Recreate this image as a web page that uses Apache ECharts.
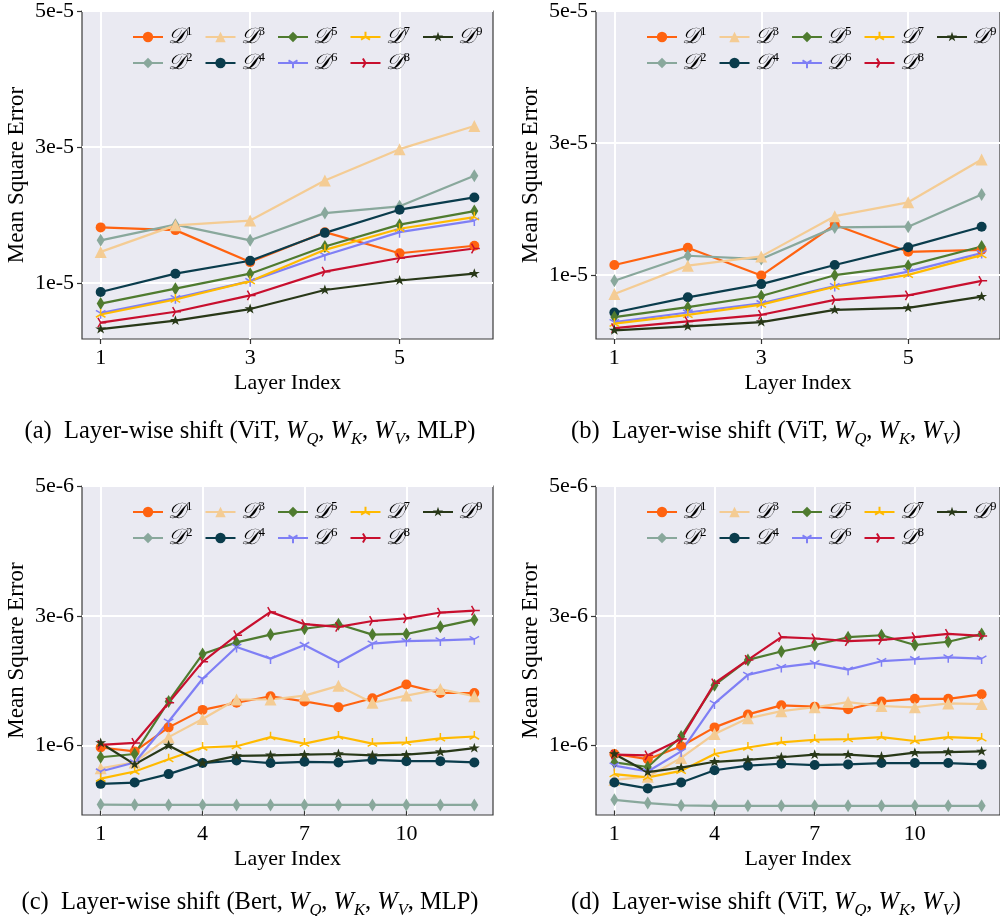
<!DOCTYPE html>
<html><head><meta charset="utf-8">
<script src="https://cdn.jsdelivr.net/npm/echarts@6/dist/echarts.min.js"></script>
<style>html,body{margin:0;padding:0;background:#fff}#c{width:1000px;height:916px}</style>
</head><body><div id="c"></div>
<script>
// ---------------- data ----------------
const seriesNames = ['D1','D2','D3','D4','D5','D6','D7','D8','D9'];
const layers6 = [1,2,3,4,5,6];
const layers12 = [1,2,3,4,5,6,7,8,9,10,11,12];

// (a) ViT, WQ WK WV MLP
const a_D1 = [1.82e-5, 1.78e-5, 1.31e-5, 1.75e-5, 1.44e-5, 1.55e-5];
const a_D2 = [1.63e-5, 1.86e-5, 1.63e-5, 2.03e-5, 2.13e-5, 2.58e-5];
const a_D3 = [1.46e-5, 1.85e-5, 1.92e-5, 2.51e-5, 2.97e-5, 3.31e-5];
const a_D4 = [8.7e-6, 1.14e-5, 1.33e-5, 1.74e-5, 2.08e-5, 2.26e-5];
const a_D5 = [7.0e-6, 9.2e-6, 1.14e-5, 1.54e-5, 1.86e-5, 2.06e-5];
const a_D6 = [5.6e-6, 7.8e-6, 1.03e-5, 1.41e-5, 1.75e-5, 1.92e-5];
const a_D7 = [5.4e-6, 7.6e-6, 1.03e-5, 1.49e-5, 1.80e-5, 1.97e-5];
const a_D8 = [4.2e-6, 5.8e-6, 8.2e-6, 1.17e-5, 1.37e-5, 1.51e-5];
const a_D9 = [3.25e-6, 4.5e-6, 6.2e-6, 9.0e-6, 1.04e-5, 1.14e-5];

// (b) ViT, WQ WK WV
const b_D1 = [1.15e-5, 1.41e-5, 9.9e-6, 1.76e-5, 1.35e-5, 1.38e-5];
const b_D2 = [9.1e-6, 1.29e-5, 1.24e-5, 1.72e-5, 1.73e-5, 2.22e-5];
const b_D3 = [7.1e-6, 1.14e-5, 1.28e-5, 1.89e-5, 2.10e-5, 2.75e-5];
const b_D4 = [4.3e-6, 6.6e-6, 8.6e-6, 1.15e-5, 1.42e-5, 1.73e-5];
const b_D5 = [3.6e-6, 5.1e-6, 6.8e-6, 9.95e-6, 1.14e-5, 1.43e-5];
const b_D6 = [2.85e-6, 4.3e-6, 5.7e-6, 8.3e-6, 1.05e-5, 1.33e-5];
const b_D7 = [2.6e-6, 3.95e-6, 5.5e-6, 8.2e-6, 1.0e-5, 1.30e-5];
const b_D8 = [1.94e-6, 2.94e-6, 3.95e-6, 6.2e-6, 6.9e-6, 9.1e-6];
const b_D9 = [1.59e-6, 2.19e-6, 2.85e-6, 4.7e-6, 5.0e-6, 6.7e-6];

// (c) Bert, WQ WK WV MLP
const c_D1 = [0.97e-6, 0.91e-6, 1.28e-6, 1.55e-6, 1.66e-6, 1.76e-6, 1.68e-6, 1.59e-6, 1.73e-6, 1.94e-6, 1.81e-6, 1.81e-6];
const c_D2 = [0.09e-6, 0.087e-6, 0.086e-6, 0.086e-6, 0.086e-6, 0.086e-6, 0.086e-6, 0.086e-6, 0.086e-6, 0.086e-6, 0.086e-6, 0.086e-6];
const c_D3 = [0.65e-6, 0.74e-6, 1.13e-6, 1.41e-6, 1.71e-6, 1.71e-6, 1.77e-6, 1.92e-6, 1.66e-6, 1.77e-6, 1.87e-6, 1.76e-6];
const c_D4 = [0.41e-6, 0.43e-6, 0.56e-6, 0.73e-6, 0.77e-6, 0.73e-6, 0.75e-6, 0.74e-6, 0.78e-6, 0.76e-6, 0.76e-6, 0.74e-6];
const c_D5 = [0.82e-6, 0.87e-6, 1.68e-6, 2.41e-6, 2.59e-6, 2.71e-6, 2.80e-6, 2.87e-6, 2.71e-6, 2.72e-6, 2.83e-6, 2.94e-6];
const c_D6 = [0.60e-6, 0.74e-6, 1.37e-6, 2.03e-6, 2.52e-6, 2.34e-6, 2.55e-6, 2.28e-6, 2.57e-6, 2.61e-6, 2.62e-6, 2.64e-6];
const c_D7 = [0.49e-6, 0.60e-6, 0.79e-6, 0.97e-6, 0.99e-6, 1.13e-6, 1.03e-6, 1.14e-6, 1.03e-6, 1.05e-6, 1.11e-6, 1.14e-6];
const c_D8 = [1.01e-6, 1.04e-6, 1.66e-6, 2.29e-6, 2.70e-6, 3.06e-6, 2.87e-6, 2.83e-6, 2.92e-6, 2.96e-6, 3.05e-6, 3.08e-6];
const c_D9 = [1.04e-6, 0.71e-6, 1.00e-6, 0.73e-6, 0.84e-6, 0.85e-6, 0.86e-6, 0.87e-6, 0.85e-6, 0.86e-6, 0.90e-6, 0.96e-6];

// (d) ViT, WQ WK WV
const d_D1 = [0.87e-6, 0.79e-6, 0.99e-6, 1.28e-6, 1.48e-6, 1.62e-6, 1.60e-6, 1.56e-6, 1.68e-6, 1.72e-6, 1.72e-6, 1.79e-6];
const d_D2 = [0.164e-6, 0.113e-6, 0.077e-6, 0.072e-6, 0.072e-6, 0.072e-6, 0.072e-6, 0.072e-6, 0.072e-6, 0.072e-6, 0.072e-6, 0.072e-6];
const d_D3 = [0.47e-6, 0.52e-6, 0.81e-6, 1.18e-6, 1.42e-6, 1.53e-6, 1.59e-6, 1.67e-6, 1.61e-6, 1.59e-6, 1.65e-6, 1.64e-6];
const d_D4 = [0.43e-6, 0.34e-6, 0.43e-6, 0.62e-6, 0.69e-6, 0.72e-6, 0.70e-6, 0.71e-6, 0.73e-6, 0.73e-6, 0.73e-6, 0.71e-6];
const d_D5 = [0.74e-6, 0.67e-6, 1.14e-6, 1.93e-6, 2.32e-6, 2.45e-6, 2.55e-6, 2.67e-6, 2.70e-6, 2.55e-6, 2.60e-6, 2.72e-6];
const d_D6 = [0.69e-6, 0.60e-6, 0.91e-6, 1.65e-6, 2.09e-6, 2.21e-6, 2.27e-6, 2.17e-6, 2.30e-6, 2.33e-6, 2.36e-6, 2.34e-6];
const d_D7 = [0.56e-6, 0.51e-6, 0.61e-6, 0.87e-6, 0.97e-6, 1.05e-6, 1.09e-6, 1.10e-6, 1.13e-6, 1.07e-6, 1.13e-6, 1.11e-6];
const d_D8 = [0.86e-6, 0.85e-6, 1.10e-6, 1.96e-6, 2.32e-6, 2.67e-6, 2.65e-6, 2.61e-6, 2.63e-6, 2.67e-6, 2.72e-6, 2.69e-6];
const d_D9 = [0.87e-6, 0.59e-6, 0.66e-6, 0.75e-6, 0.78e-6, 0.82e-6, 0.86e-6, 0.86e-6, 0.83e-6, 0.89e-6, 0.90e-6, 0.91e-6];

// axis ticks
const xTicks6 = [1, 3, 5];
const xTicks12 = [1, 4, 7, 10];
const yTicksA = [1e-5, 3e-5, 5e-5];
const yTicksC = [1e-6, 3e-6, 5e-6];

const captions = [
  ['(a)', 'Layer-wise shift (ViT, ', true],
  ['(b)', 'Layer-wise shift (ViT, ', false],
  ['(c)', 'Layer-wise shift (Bert, ', true],
  ['(d)', 'Layer-wise shift (ViT, ', false]
];

// ---------------- style ----------------
const FONT = "'Liberation Serif', 'Times New Roman', serif";
const colors = ['#FF6310', '#89A89C', '#F4CC94', '#0A3C4C', '#4F7B2F', '#7F7FF5', '#FFBA00', '#C80F2E', '#283818'];
const TRI_DOWN = 'path://M0 0M20 20M10 10L10 20M10 10L1.34 5M10 10L18.66 5';
const TRI_UP = 'path://M0 0M20 20M10 10L10 0M10 10L1.34 15M10 10L18.66 15';
const TRI_RIGHT = 'path://M0 0M20 20M10 10L20 10M10 10L5 1.34M10 10L5 18.66';
const STAR = 'path://M10 0L12.25 6.91L19.51 6.91L13.63 11.18L15.88 18.09L10 13.82L4.12 18.09L6.37 11.18L0.49 6.91L7.75 6.91ZM10 20';
const symbols = ['circle', 'diamond', 'triangle', 'circle', 'diamond', TRI_DOWN, TRI_UP, TRI_RIGHT, STAR];
const symSizes = [10, [8, 13], 12, 10, [8, 13], 11, 11, 11, 11];
const stroked = [false, false, false, false, false, true, true, true, false];

const grids = [
  {left: 82, top: 11, width: 411, height: 328},
  {left: 596, top: 11, width: 411, height: 328},
  {left: 82, top: 486, width: 411, height: 329},
  {left: 596, top: 486, width: 411, height: 329}
];

const panels = [
  {x: layers6, xt: xTicks6, xmin: 0.75, xmax: 6.25, yt: yTicksA, ymin: 1.8e-6, ymax: 5e-5,
   d: [a_D1, a_D2, a_D3, a_D4, a_D5, a_D6, a_D7, a_D8, a_D9]},
  {x: layers6, xt: xTicks6, xmin: 0.75, xmax: 6.25, yt: yTicksA, ymin: 2.8e-7, ymax: 5e-5,
   d: [b_D1, b_D2, b_D3, b_D4, b_D5, b_D6, b_D7, b_D8, b_D9]},
  {x: layers12, xt: xTicks12, xmin: 0.45, xmax: 12.55, yt: yTicksC, ymin: -7e-8, ymax: 5e-6,
   d: [c_D1, c_D2, c_D3, c_D4, c_D5, c_D6, c_D7, c_D8, c_D9]},
  {x: layers12, xt: xTicks12, xmin: 0.45, xmax: 12.55, yt: yTicksC, ymin: -7e-8, ymax: 5e-6,
   d: [d_D1, d_D2, d_D3, d_D4, d_D5, d_D6, d_D7, d_D8, d_D9]}
];

const tickStyle = {show: true, inside: false, length: 5, lineStyle: {color: '#333', width: 1.2}};
const split = {show: true, lineStyle: {color: '#ffffff', width: 2}};

const xAxes = panels.map((p, i) => ({
  type: 'value', gridIndex: i, min: p.xmin, max: p.xmax,
  axisLine: {show: false},
  axisTick: Object.assign({customValues: p.xt}, tickStyle),
  axisLabel: {customValues: p.xt, color: '#000', fontFamily: FONT, fontSize: 22, margin: 8},
  splitLine: split,
  name: 'Layer Index', nameLocation: 'middle', nameGap: 33,
  nameTextStyle: {color: '#000', fontFamily: FONT, fontSize: 22}
}));
const yAxes = panels.map((p, i) => ({
  type: 'value', gridIndex: i, min: p.ymin, max: p.ymax,
  axisLine: {show: false},
  axisTick: Object.assign({customValues: p.yt}, tickStyle),
  axisLabel: {customValues: p.yt, color: '#000', fontFamily: FONT, fontSize: 22, margin: 8,
    formatter: v => Number(v).toExponential(0)},
  splitLine: split,
  name: 'Mean Square Error', nameLocation: 'middle', nameGap: 54,
  nameTextStyle: {color: '#000', fontFamily: FONT, fontSize: 23}
}));

const series = [];
panels.forEach((p, pi) => {
  p.d.forEach((vals, k) => {
    series.push({
      type: 'line', name: seriesNames[k], xAxisIndex: pi, yAxisIndex: pi,
      data: p.x.map((x, j) => [x, vals[j]]),
      symbol: symbols[k], symbolSize: symSizes[k], showAllSymbol: true,
      lineStyle: {color: colors[k], width: 2.2},
      itemStyle: stroked[k] ? {color: colors[k], borderColor: colors[k], borderWidth: 1.5}
                            : {color: colors[k], borderWidth: 0},
      clip: false, animation: false
    });
  });
});

const legendRich = {
  d: {fontFamily: "'DejaVu Serif', " + FONT, fontStyle: 'italic', fontSize: 22, color: '#000', lineHeight: 24},
  s: {fontFamily: FONT, fontSize: 13, color: '#000', lineHeight: 12, verticalAlign: 'top'}
};
const legendRows = [['D1','D3','D5','D7','D9'], ['D2','D4','D6','D8']];
const legends = [];
grids.forEach(g => {
  legendRows.forEach((row, r) => {
    legends.push({
      data: row, left: g.left + 50, top: g.top + 14 + r * 26, padding: 0,
      width: 400,
      itemWidth: 30, itemHeight: 13, itemGap: 12, orient: 'horizontal',
      selectedMode: false,
      formatter: n => '{d|\uD835\uDC9F}{s|' + n.slice(1) + '}',
      textStyle: {rich: legendRich}
    });
  });
});

const capRich = {
  n: {fontFamily: FONT, fontSize: 24.5, fontWeight: 'normal', color: '#000', lineHeight: 32},
  i: {fontFamily: FONT, fontSize: 24.5, fontWeight: 'normal', fontStyle: 'italic', color: '#000', lineHeight: 32},
  s: {fontFamily: FONT, fontSize: 16.5, fontWeight: 'normal', fontStyle: 'italic', color: '#000', lineHeight: 20, verticalAlign: 'bottom'}
};
const capCenters = [[250, 416], [766, 416], [250, 887], [766, 887]];
const titles = captions.map((c, i) => ({
  text: '{n|' + c[0] + '  ' + c[1] + '}{i|W}{s|Q}{n|, }{i|W}{s|K}{n|, }{i|W}{s|V}{n|' + (c[2] ? ', MLP)' : ')') + '}',
  left: capCenters[i][0], top: capCenters[i][1], textAlign: 'center', padding: 0,
  textStyle: {fontWeight: 'normal', rich: capRich}
}));

const chart = echarts.init(document.getElementById('c'), null, {renderer: 'canvas'});
chart.setOption({
  backgroundColor: '#ffffff',
  animation: false,
  textStyle: {fontFamily: FONT},
  title: titles,
  grid: grids.map(g => Object.assign({show: true, backgroundColor: '#EAEAF2', borderColor: '#3a3a3a', borderWidth: 1.2, containLabel: false}, g)),
  xAxis: xAxes,
  yAxis: yAxes,
  legend: legends,
  series: series
});
</script></body></html>
